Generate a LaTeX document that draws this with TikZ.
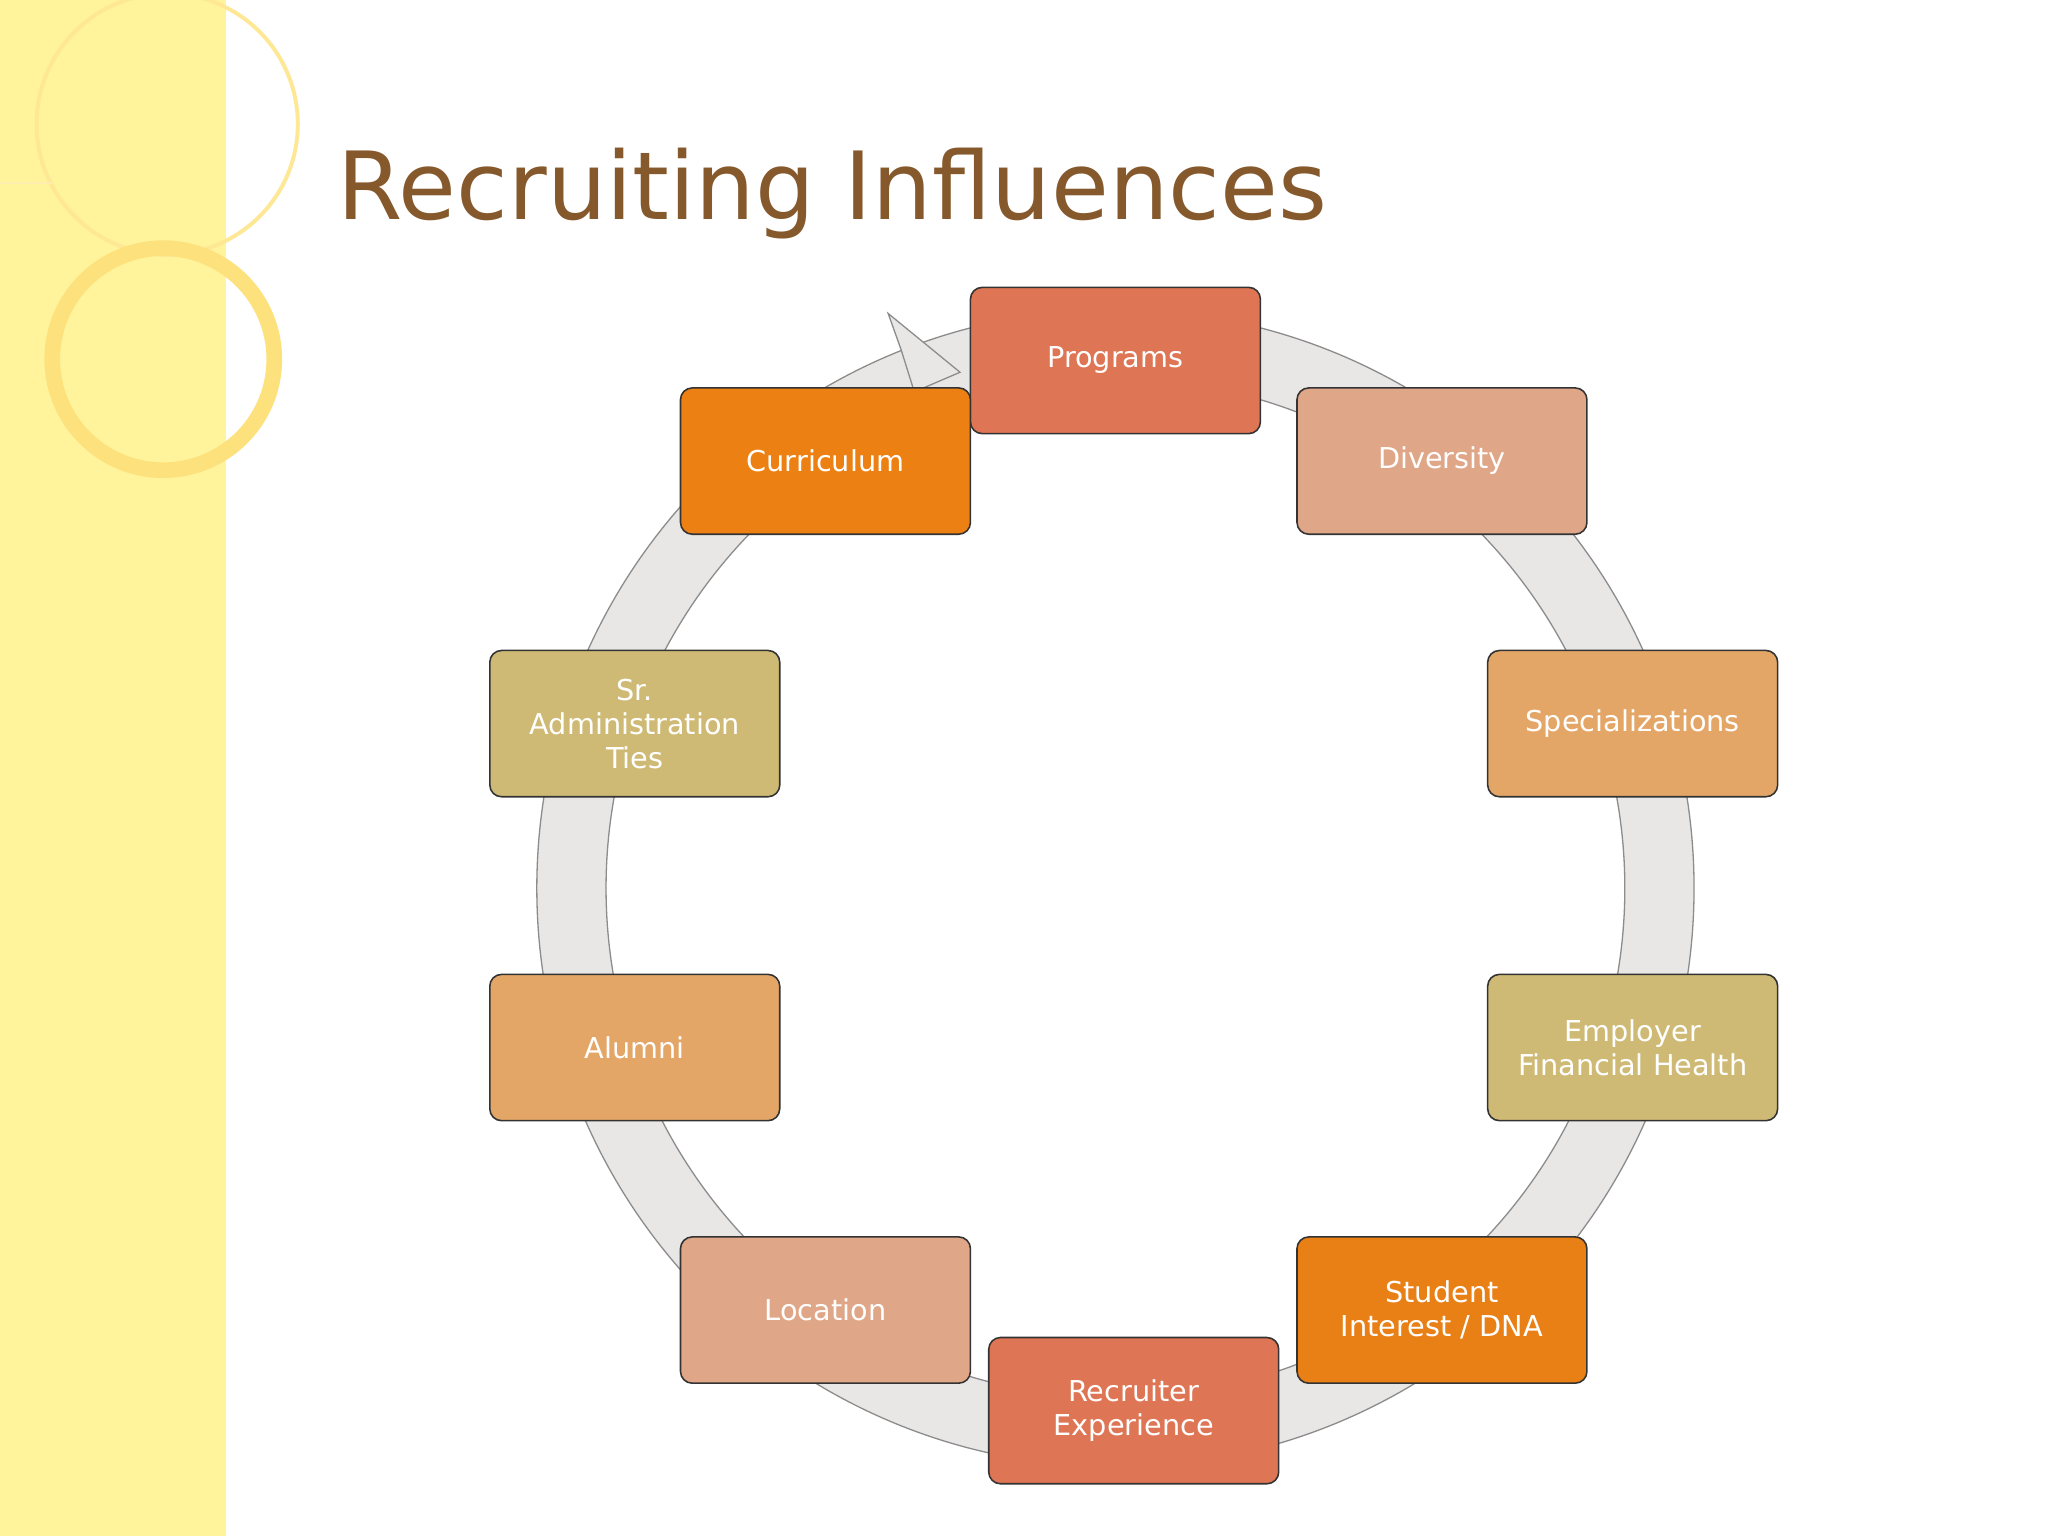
\documentclass[tikz,border=0pt]{standalone}
\usepackage{fontspec}
\setmainfont{DejaVu Sans}
\begin{document}
\begin{tikzpicture}[x=1pt,y=-1pt,
  box/.style={draw=black!80,line width=1.2pt,rounded corners=9pt,minimum width=222pt,minimum height=112pt,text=white,align=center,font=\fontsize{22}{26}\selectfont,inner sep=2pt},
  ringc/.style={fill=black!3!white!80!pink!60!gray!40, draw=black!45, line width=1pt}]
\useasboundingbox (0,0) rectangle (1568,1176);
\fill[white] (0,0) rectangle (1568,1176);
\fill[yellow!35!white!95!orange] (0,0) rectangle (173,1176);
\draw[yellow!60!orange!40, line width=3pt] (128,95) circle (100);
\draw[yellow!60!orange!50, line width=12pt] (125,275) circle (85);
\draw[yellow!60!orange!30, line width=2pt] (0,140) -- (40,140);
\node[anchor=west,text=brown!70!black,font=\fontsize{72}{80}\selectfont] (title) at (255,148) {Recruiting Influences};
% ring
\fill[ringc, even odd rule] (854,680) circle (443) (854,680) circle (390);
\fill[ringc] (680,240) -- (735,285) -- (700,300) -- (690,268) -- cycle;
\begin{scope}[every node/.style=box]
\node[fill=red!35!brown!80!white] (p) at (854,276) {Programs};
\node[fill=brown!55!white!90!red] (d) at (1104,353) {Diversity};
\node[fill=orange!40!brown!70!white] (s) at (1250,554) {Specializations};
\node[fill=olive!40!brown!60!white] (e) at (1250,802) {Employer\\Financial Health};
\node[fill=orange!65!brown] (st) at (1104,1003) {Student\\Interest / DNA};
\node[fill=red!35!brown!80!white] (r) at (868,1080) {Recruiter\\Experience};
\node[fill=brown!55!white!90!red] (l) at (632,1003) {Location};
\node[fill=orange!40!brown!70!white] (a) at (486,802) {Alumni};
\node[fill=olive!40!brown!60!white] (sr) at (486,554) {Sr.\\Administration\\Ties};
\node[fill=orange!70!brown] (c) at (632,353) {Curriculum};
\end{scope}
\end{tikzpicture}
\end{document}
